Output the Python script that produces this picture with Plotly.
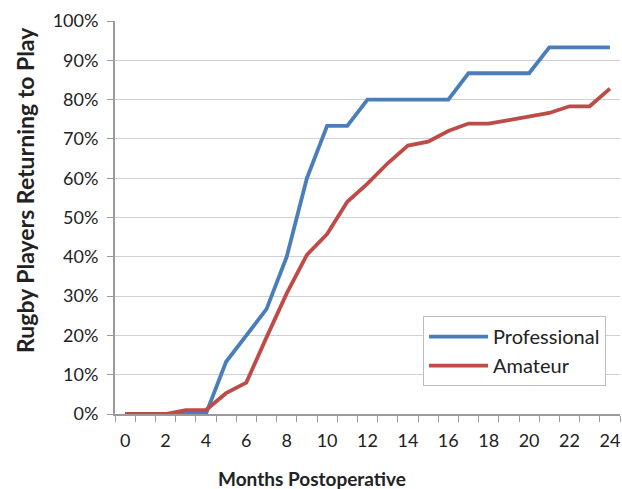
import plotly.graph_objects as go

months = list(range(25))
professional = [0, 0, 0, 0, 0, 13.3, 20, 26.7, 40, 60, 73.3, 73.3, 80, 80, 80, 80, 80,
                86.7, 86.7, 86.7, 86.7, 93.3, 93.3, 93.3, 93.3]
amateur = [0, 0, 0, 1, 1, 5.3, 8, 19.5, 30.7, 40.5, 45.8, 54, 58.6, 63.8, 68.3, 69.3, 72,
           73.9, 73.9, 74.8, 75.7, 76.6, 78.3, 78.3, 82.8]
y_ticks = [i / 10 for i in range(11)]
x_labels = list(range(0, 25, 2))

FONT = "Lato, 'Open Sans', sans-serif"

fig = go.Figure()
fig.add_trace(go.Scatter(x=months, y=[v / 100 for v in professional], mode="lines",
                         name="Professional", legendgroup="a",
                         line=dict(color="#4A7EBB", width=3.8)))
fig.add_trace(go.Scatter(x=months, y=[v / 100 for v in amateur], mode="lines",
                         name="Amateur", legendgroup="b",
                         line=dict(color="#BE4B48", width=3.8)))

fig.update_layout(
    width=622, height=489,
    margin=dict(l=115, r=2, t=21, b=75),
    paper_bgcolor="white", plot_bgcolor="white",
    font=dict(family=FONT, color="#222222", size=18),
    showlegend=True,
    legend=dict(x=0.61, y=0.249, xanchor="left", yanchor="top",
                bordercolor="#BDBDBD", borderwidth=1, bgcolor="white",
                font=dict(size=20, color="#222222"), itemwidth=59,
                traceorder="grouped", tracegroupgap=0),
    xaxis=dict(range=[-0.5, 24.5], tickmode="array", tickvals=x_labels,
               ticktext=[str(v) for v in x_labels], ticks="", showgrid=False,
               showline=True, linecolor="#9A9A9A", linewidth=2, zeroline=False,
               tickfont=dict(size=18, color="#222222"), ticklabelstandoff=9,
               ticklabeloverflow="allow",
               minor=dict(tickmode="linear", tick0=-0.5, dtick=1, ticks="outside",
                          ticklen=6, tickcolor="#9A9A9A", tickwidth=1, showgrid=False)),
    yaxis=dict(range=[0, 1], tickmode="array", tickvals=y_ticks, tickformat=".0%",
               showgrid=True, gridcolor="#D0D0D0", gridwidth=1,
               showline=True, linecolor="#9A9A9A", linewidth=2, zeroline=False,
               ticks="outside", ticklen=6, tickcolor="#9A9A9A", ticklabelstandoff=5,
               tickfont=dict(size=18, color="#222222")),
    annotations=[
        dict(text="<b>Months Postoperative</b>", xref="paper", yref="paper",
             x=0.39, y=0, yshift=-64, xanchor="center", yanchor="middle",
             showarrow=False, font=dict(size=19, color="#222222")),
        dict(text="<b>Rugby Players Returning to Play</b>", xref="paper", yref="paper",
             x=0, xshift=-90, y=0.57, xanchor="center", yanchor="middle",
             textangle=-90, showarrow=False, font=dict(size=23, color="#222222")),
    ],
)

fig.write_html("out.html", config={"displayModeBar": False},
               post_script="document.body.style.margin='0';document.body.style.overflow='hidden';")
